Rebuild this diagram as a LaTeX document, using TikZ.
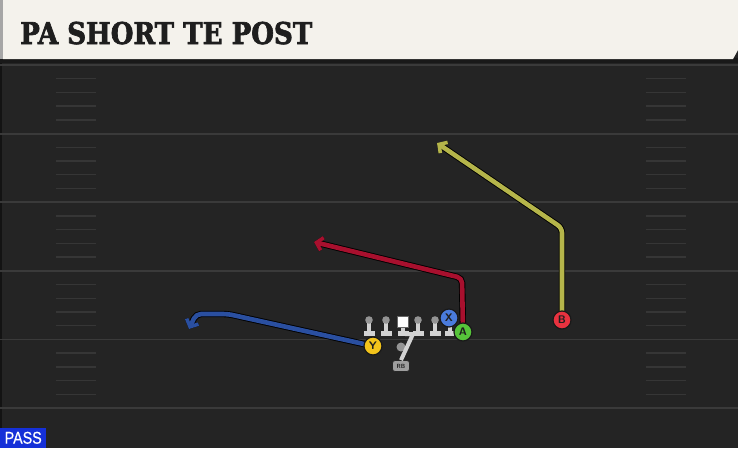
\documentclass[tikz,border=0pt]{standalone}
\usepackage{fontspec}
\usetikzlibrary{arrows.meta}
\newfontfamily\titlefont{DejaVu Serif}[FakeStretch=0.87, FakeBold=2.2]
\newfontfamily\tagfont{Liberation Sans}[FakeStretch=0.84, FakeBold=0.6]
\definecolor{field}{HTML}{242424}
\definecolor{yardline}{HTML}{3A3A3A}
\definecolor{hashmark}{HTML}{363636}
\definecolor{paper}{HTML}{F4F2EC}
\definecolor{ink}{HTML}{1E1E1E}
\definecolor{passblue}{HTML}{1530D8}
\definecolor{yclr}{HTML}{F2C31B}
\definecolor{xclr}{HTML}{4A7BDC}
\definecolor{aclr}{HTML}{56C43A}
\definecolor{bclr}{HTML}{E8323F}
\definecolor{blueroute}{HTML}{2A4FA0}
\definecolor{redroute}{HTML}{A8102E}
\definecolor{olive}{HTML}{B5B54A}
\definecolor{lineman}{HTML}{D2D2D2}
\begin{document}
\begin{tikzpicture}
	[x=1pt, y=-1pt,
	 player/.style={circle, draw=black!90, line width=1.2pt, minimum size=18pt, inner sep=0pt,
	   font=\fontsize{11}{11}\sffamily\bfseries, text=ink},
	 route/.style={draw=#1, line width=4.6pt, line join=round, rounded corners=5pt,
	   -{Straight Barb[length=6pt, width=13pt, line width=3.6pt]},
	   preaction={draw=black, line width=6.4pt}},
	 tee/.style={fill=lineman}]

	\useasboundingbox (0,0) rectangle (738,448);
	\fill[field] (0,0) rectangle (738,448);
	\fill[yardline!120] (0,62) rectangle (2,448);

	% yard lines and hashes
	\foreach \j in {0,...,5}
		\draw[yardline, line width=1.8pt] (0,65+68.6*\j) -- (738,65+68.6*\j);
	\foreach \j in {1,...,24} {
		\pgfmathtruncatemacro{\r}{mod(\j,5)}
		\ifnum\r>0
			\draw[hashmark, line width=1.4pt] (56,65+13.72*\j) -- (96,65+13.72*\j);
			\draw[hashmark, line width=1.4pt] (646,65+13.72*\j) -- (686,65+13.72*\j);
		\fi}

	% title bar
	\fill[black!90] (0,58) rectangle (738,63);
	\fill[paper] (3,0) -- (738,0) -- (738,50) -- (733,59) -- (3,59) -- cycle;
	\fill[black!35] (0,0) rectangle (3,59);
	\node[anchor=base west, inner sep=0pt, text=ink,
	  font=\titlefont\bfseries\fontsize{30}{30}\selectfont] (title) at (20,44) {PA SHORT TE POST};

	% tag
	\node[fill=passblue, text=white, anchor=south west, minimum width=46pt, minimum height=20pt,
	  inner sep=0pt, font=\tagfont\fontsize{17}{17}\selectfont] (tag) at (0,448) {PASS};

	% line
	\foreach \x [count=\i] in {369,386,418,435,450} {
		\fill[tee] (\x-2,321) rectangle (\x+2,332);
		\fill[tee] (\x-5.5,330.5) rectangle (\x+5.5,336);
		\fill[black!42] (\x,320) circle (3.8);
	}
	\node[fill=white, draw=black!60, minimum size=11pt, inner sep=0pt] (C) at (403,322) {};
	\fill[tee] (401,327.5) rectangle (405,332);
	\fill[tee] (397.5,330.5) rectangle (408.5,336);

	% qb and back
	\node[circle, fill=black!42, minimum size=9pt, inner sep=0pt] (QB) at (401,347) {};
	\node[draw=black!85, line width=0.8pt, fill=black!38, rounded corners=2.5pt, minimum width=17pt,
	  minimum height=11pt, inner sep=0pt, font=\sffamily\bfseries\fontsize{6}{6}\selectfont,
	  text=ink] (RB) at (401,366) {RB};
	\coordinate (fake) at (413,334);
	\draw[lineman, line width=4pt] (405,334) -- (fake) -- (RB.north);

	% receivers
	\node[player, fill=xclr] (X) at (449,318) {X};

	% routes
	\coordinate (y1) at (228,314);
	\coordinate (y2) at (196,314);
	\coordinate (y3) at (189,329);
	\coordinate (a1) at (462,278);
	\coordinate (a2) at (314,242);
	\coordinate (b1) at (562,228);
	\coordinate (b2) at (437,143);
	\draw[route=blueroute] (373,346) -- (y1) -- (y2) -- (y3);
	\draw[route=redroute] (463,332) -- (a1) -- (a2);
	\draw[route=olive] (562,320) -- (b1) -- (b2);

	\node[player, fill=yclr] (Y) at (373,346) {Y};
	\node[player, fill=aclr] (A) at (463,332) {A};
	\node[player, fill=bclr] (B) at (562,320) {B};
\end{tikzpicture}
\end{document}
